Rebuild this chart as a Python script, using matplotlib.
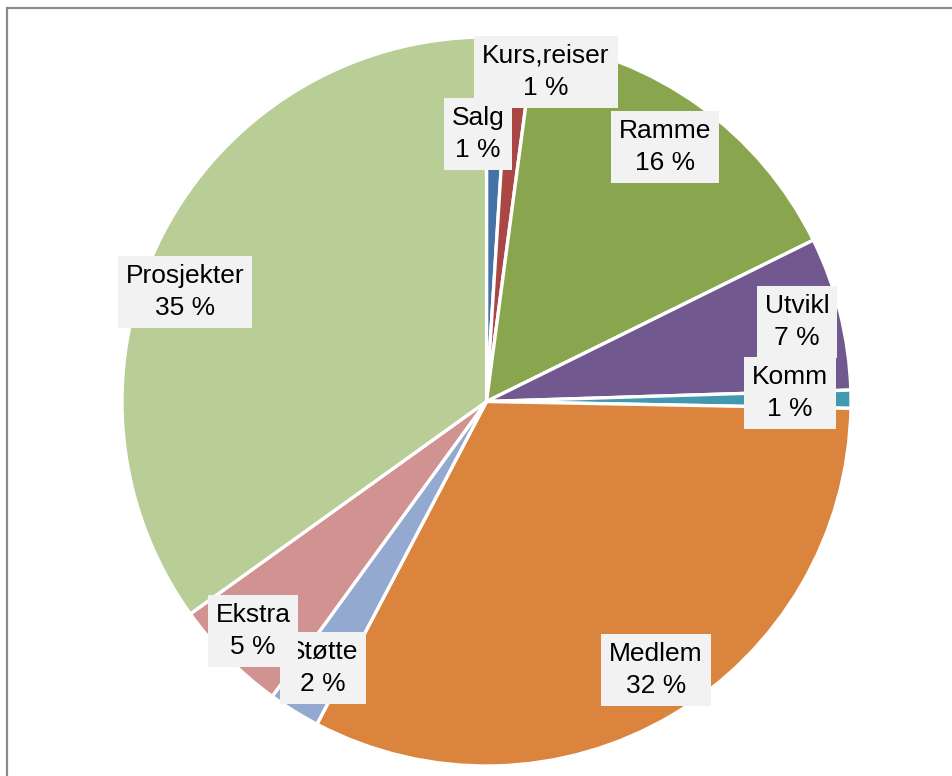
import matplotlib
matplotlib.use("Agg")
import matplotlib.pyplot as plt
from matplotlib.patches import Rectangle

plt.rcParams['font.family'] = ['Liberation Sans', 'DejaVu Sans']

categories = ["Salg", "Kurs,reiser", "Ramme", "Utvikl", "Komm",
              "Medlem", "Støtte", "Ekstra", "Prosjekter"]
values = [1.0, 1.1, 15.6, 6.8, 0.8, 32.4, 2.3, 5.1, 34.9]
colors = ["#4572A7", "#AA4643", "#89A54E", "#71588F", "#4198AF",
          "#DB843D", "#93A9CF", "#D19392", "#B9CD96"]

# label box centres in pixels (Excel "best fit" placement)
label_px = [(478, 134), (546, 72), (665, 147), (797, 322), (790, 393),
            (656, 670), (323, 668), (253, 631), (185, 292)]

W, H = 952, 776
fig = plt.figure(figsize=(W / 100, H / 100), dpi=100)

cx, cy, r = 486.5, 401.5, 364.5
ax = fig.add_axes([(cx - r) / W, (H - cy - r) / H, 2 * r / W, 2 * r / H])
ax.pie(values, colors=colors, startangle=90, counterclock=False, radius=1,
       wedgeprops=dict(edgecolor="white", linewidth=2.4))
ax.set_xlim(-1, 1)
ax.set_ylim(-1, 1)
ax.set_aspect("equal")
ax.axis("off")

for i, (name, v, (px, py)) in enumerate(zip(categories, values, label_px)):
    x = (px - cx) / r
    y = (cy - py) / r
    z = 20 if i == 0 else 5 + i   # keep "Salg" above the "Kurs,reiser" box
    ax.text(x, y, "%s\n%.0f %%" % (name, v), ha="center", va="center",
            fontsize=19, linespacing=1.45, color="black", clip_on=False,
            zorder=z,
            bbox=dict(boxstyle="square,pad=0.3", facecolor="#F2F2F2",
                      edgecolor="none"))

# chart area border (right and bottom edges fall outside the picture)
fig.patches.append(Rectangle((7 / W, -0.1), 1.2, (H - 8) / H + 0.1,
                             transform=fig.transFigure, fill=False,
                             edgecolor="#8C8C8C", linewidth=1.6))

fig.savefig("out.png", dpi=100)
